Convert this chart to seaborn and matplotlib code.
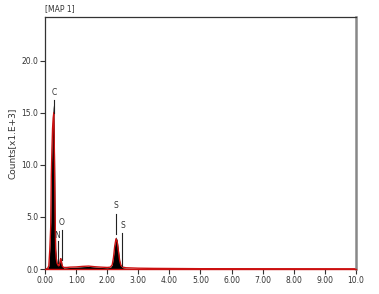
import numpy as np
import pandas as pd
import matplotlib
matplotlib.use("Agg")
import matplotlib.pyplot as plt
import seaborn as sns

# EDS spectrum, energy in keV, counts in thousands
energy = [0.00, 0.08, 0.12, 0.15, 0.18, 0.20, 0.22, 0.24, 0.26, 0.28, 0.30, 0.32,
          0.34, 0.36, 0.38, 0.40, 0.42, 0.44, 0.46, 0.48, 0.50, 0.52, 0.54, 0.56,
          0.60, 0.70, 0.80, 1.00, 1.20, 1.40, 1.60, 1.80, 2.00, 2.10, 2.16, 2.20,
          2.24, 2.28, 2.32, 2.36, 2.40, 2.44, 2.50, 2.60, 2.80, 3.00, 3.50, 4.00,
          4.50, 5.00, 10.00]
counts = [0.0, 0.05, 0.3, 2.0, 4.5, 9.5, 12.0, 14.5, 15.5, 16.0, 12.0, 6.0,
          2.0, 1.2, 0.7, 0.5, 0.4, 0.35, 0.5, 0.8, 1.1, 0.9, 0.5, 0.25,
          0.1, 0.12, 0.15, 0.18, 0.22, 0.25, 0.2, 0.15, 0.12, 0.15, 0.4, 1.2,
          2.3, 3.1, 2.8, 1.8, 0.8, 0.3, 0.12, 0.08, 0.06, 0.05, 0.04, 0.03,
          0.02, 0.01, 0.0]
red_env = [0.0, 0.05, 0.3, 1.8, 4.0, 9.0, 11.5, 13.5, 14.5, 15.0, 11.0, 5.5,
           1.8, 1.0, 0.6, 0.45, 0.35, 0.3, 0.45, 0.7, 1.0, 0.8, 0.45, 0.25,
           0.15, 0.15, 0.18, 0.2, 0.25, 0.28, 0.22, 0.18, 0.15, 0.18, 0.4, 1.1,
           2.2, 2.9, 2.6, 1.7, 0.8, 0.35, 0.18, 0.12, 0.1, 0.08, 0.06, 0.05,
           0.04, 0.03, 0.02]

# peak labels: element, energy, line bottom, line top, label height
peak_el = ["C", "N", "O", "S", "S"]
peak_x = [0.29, 0.40, 0.54, 2.28, 2.47]
peak_lo = [15.0, 0.6, 0.9, 3.4, 0.3]
peak_hi = [16.2, 2.7, 3.7, 5.3, 3.5]
peak_txt = [16.5, 2.8, 4.0, 5.7, 3.7]
peak_dx = [0.0, 0.0, -0.02, 0.0, 0.04]

df = pd.DataFrame({"energy": energy, "counts": counts, "red": red_env})

fig, ax = plt.subplots(figsize=(3.79, 2.94), dpi=100)
fig.subplots_adjust(left=0.119, right=0.939, top=0.942, bottom=0.085)

ax.fill_between(df["energy"], df["counts"], color="black", lw=0)
sns.lineplot(data=df, x="energy", y="red", color="#cc1010", lw=1.0, ax=ax)

for el, x, lo, hi, t, dx in zip(peak_el, peak_x, peak_lo, peak_hi, peak_txt, peak_dx):
    ax.plot([x, x], [lo, hi], color="#222222", lw=0.8)
    ax.text(x + dx, t, el, fontsize=5.5, ha="center", va="bottom", color="#333333")

ax.set_xlim(0, 10)
ax.set_ylim(0, 24.2)
ax.set_xticks(np.arange(0, 11, 1))
ax.set_xticklabels(["0.00", "1.00", "2.00", "3.00", "4.00", "5.00",
                    "6.00", "7.00", "8.00", "9.00", "10.0"])
ax.set_yticks([0, 5, 10, 15, 20])
ax.set_yticklabels(["0.0", "5.0", "10.0", "15.0", "20.0"])
ax.tick_params(labelsize=5.5, length=3.5, width=0.8, colors="#333333", pad=1.5)
ax.set_xlabel("")
ax.set_ylabel("Counts[x1.E+3]", fontsize=6.5, color="#333333", labelpad=3)

for s in ["left", "top"]:
    ax.spines[s].set_color("#333333")
    ax.spines[s].set_linewidth(0.9)
ax.spines["right"].set_color("#888888")
ax.spines["right"].set_linewidth(1.8)
ax.spines["bottom"].set_color("#cc1010")
ax.spines["bottom"].set_linewidth(1.0)

fig.text(0.119, 0.955, "[MAP 1]", fontsize=5.5, color="#333333", ha="left", va="bottom")

fig.savefig("out.png", dpi=100)
